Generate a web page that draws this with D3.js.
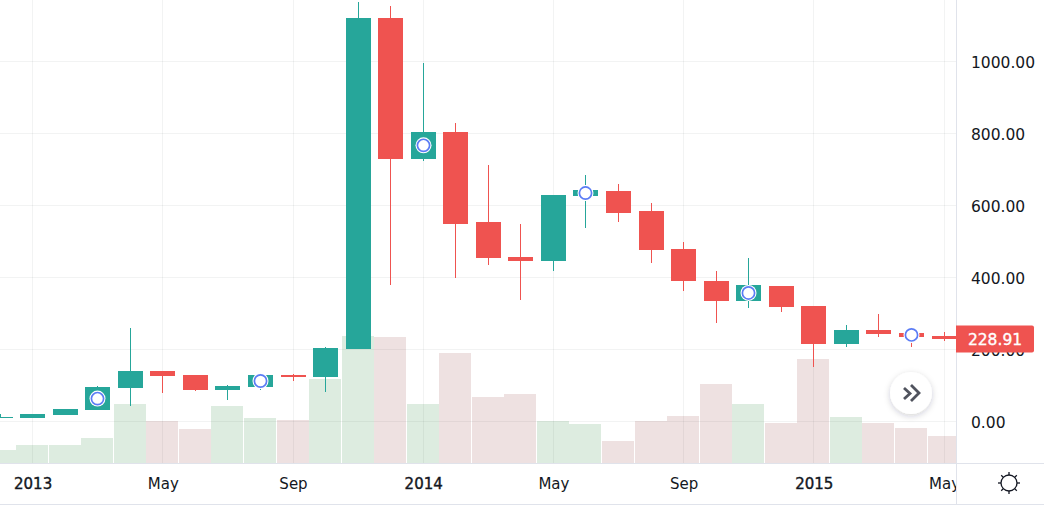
<!DOCTYPE html>
<html>
<head>
<meta charset="utf-8">
<script src="https://d3js.org/d3.v7.min.js"></script>
<style>
html, body { margin: 0; padding: 0; background: #fff; }
svg { display: block; }
svg text { font-family: "DejaVu Sans", sans-serif; }
</style>
</head>
<body>
<svg></svg>
<script>
// monthly candles, Dec 2012 .. May 2015
const months = ["Dec", "2013", "Feb", "Mar", "Apr", "May", "Jun", "Jul", "Aug", "Sep", "Oct", "Nov",
    "Dec", "2014", "Feb", "Mar", "Apr", "May", "Jun", "Jul", "Aug", "Sep", "Oct", "Nov",
    "Dec", "2015", "Feb", "Mar", "Apr", "May"];
const opens = [11, 10, 18, 31, 93, 140, 129, 87, 95, 129, 123, 201, 1120, 729, 804, 554, 456, 445, 626, 640, 584, 479, 390, 334, 376, 320, 215, 254, 246, 237];
const closes = [13, 20, 34, 95, 140, 126, 87, 98, 129, 123, 204, 1120, 729, 804, 548, 454, 445, 629, 642, 579, 476, 390, 334, 379, 318, 215, 254, 243, 234, 228.91];
const highs = [20, 20, 34, 98, 259, 140, 129, 101, 134, 131, 206, 1165, 1154, 995, 829, 712, 548, 629, 684, 659, 606, 498, 418, 454, 376, 320, 268, 298, 262, 248];
const lows = [10, 10, 18, 31, 42, 79, 84, 59, 87, 112, 81, 201, 379, 723, 398, 434, 337, 418, 537, 554, 440, 362, 273, 315, 304, 151, 206, 234, 206, 223];
const volumes = [13, 18, 18, 25, 59, 42, 34, 57, 45, 43, 84, 127, 126, 59, 110, 66, 69, 42, 39, 22, 42, 47, 79, 59, 40, 104, 46, 40, 35, 27];
const markerIdx = [3, 8, 13, 18, 23, 28];
const priceTicks = [0, 200, 400, 600, 800, 1000];
const timeTicks = [1, 5, 9, 13, 17, 21, 25, 29];
const boldTicks = ["2013", "2014", "2015"];
const lastPrice = 228.91;

const width = 1044;
const height = 510;
const paneW = 956;
const paneH = 463;
const axisBottomY = 504;

const green = "#26a69a";
const red = "#ef5350";
const lineCol = "#e0e3eb";
const textCol = "#131722";

let svg = d3.select("svg").attr("width", width).attr("height", height);

let scaleX = d3.scaleLinear().domain([0, months.length - 1]).range([0.05, 944]);
let scaleY = d3.scaleLinear().domain([0, 1000]).range([421.3, 61.3]);
let scaleV = d3.scaleLinear().domain([0, 127]).range([paneH, 336]);

let px = i => Math.floor(scaleX(i));
let py = v => Math.round(scaleY(v));
let isUp = i => closes[i] >= opens[i];

svg.append("defs").append("clipPath").attr("id", "pane")
    .append("rect").attr("width", paneW).attr("height", axisBottomY);

let shadow = svg.select("defs").append("filter").attr("id", "btnShadow")
    .attr("x", "-50%").attr("y", "-50%").attr("width", "200%").attr("height", "200%");
shadow.append("feDropShadow").attr("dx", 0).attr("dy", 2).attr("stdDeviation", 3)
    .attr("flood-color", "#2a2e39").attr("flood-opacity", 0.2);

let pane = svg.append("g").attr("clip-path", "url(#pane)");
let idx = d3.range(months.length);

// volume first, grid goes over it
pane.selectAll(".vol").data(idx).enter().append("rect").attr("class", "vol")
    .attr("x", i => px(i) - 16)
    .attr("y", i => Math.round(scaleV(volumes[i])))
    .attr("width", 32)
    .attr("height", i => paneH - Math.round(scaleV(volumes[i])))
    .attr("fill", i => isUp(i) ? "rgba(83,160,100,0.2)" : "rgba(170,105,105,0.2)");

pane.selectAll(".gridY").data(priceTicks).enter().append("rect").attr("class", "gridY")
    .attr("x", 0).attr("width", paneW).attr("height", 1)
    .attr("y", d => py(d)).attr("fill", "rgba(42,46,57,0.06)");
pane.selectAll(".gridX").data(timeTicks).enter().append("rect").attr("class", "gridX")
    .attr("x", i => px(i)).attr("width", 1).attr("y", 0).attr("height", paneH)
    .attr("fill", "rgba(42,46,57,0.06)");

// candles
pane.selectAll(".wick").data(idx).enter().append("rect").attr("class", "wick")
    .attr("x", i => px(i)).attr("width", 1)
    .attr("y", i => py(highs[i]))
    .attr("height", i => py(lows[i]) - py(highs[i]))
    .attr("fill", i => isUp(i) ? green : red);
pane.selectAll(".body").data(idx).enter().append("rect").attr("class", "body")
    .attr("x", i => px(i) - 12).attr("width", 25)
    .attr("y", i => py(Math.max(opens[i], closes[i])))
    .attr("height", i => Math.max(1, py(Math.min(opens[i], closes[i])) - py(Math.max(opens[i], closes[i]))))
    .attr("fill", i => isUp(i) ? green : red);

// event markers sit on the middle of the candle body
pane.selectAll(".marker").data(markerIdx).enter().append("circle").attr("class", "marker")
    .attr("cx", i => px(i) + 0.5)
    .attr("cy", i => scaleY((opens[i] + closes[i]) / 2))
    .attr("r", 8).attr("fill", "#fff");
pane.selectAll(".markerRing").data(markerIdx).enter().append("circle").attr("class", "markerRing")
    .attr("cx", i => px(i) + 0.5)
    .attr("cy", i => scaleY((opens[i] + closes[i]) / 2))
    .attr("r", 6.1).attr("fill", "#fff").attr("stroke", "#5b7cf5").attr("stroke-width", 1.7);

// frame lines
svg.append("rect").attr("x", 0).attr("y", paneH).attr("width", width).attr("height", 1).attr("fill", lineCol);
svg.append("rect").attr("x", 0).attr("y", axisBottomY).attr("width", width).attr("height", 1).attr("fill", lineCol);
svg.append("rect").attr("x", paneW).attr("y", 0).attr("width", 1).attr("height", axisBottomY).attr("fill", lineCol);

// price axis
let axisY = d3.axisRight(scaleY).tickValues(priceTicks).tickSize(0).tickPadding(15).tickFormat(d3.format(".2f"));
let gY = svg.append("g").attr("transform", `translate(${paneW}, 0)`).call(axisY);
gY.select(".domain").remove();
gY.selectAll("text").attr("fill", textCol).attr("dy", "0.42em").style("font-size", "15.5px");

// time axis
let axisX = d3.axisBottom(scaleX).tickValues(timeTicks).tickSize(0).tickPadding(15).tickFormat(i => months[i]);
let gX = svg.append("g").attr("clip-path", "url(#pane)").append("g").attr("transform", `translate(0, ${paneH})`).call(axisX);
gX.select(".domain").remove();
gX.selectAll("text").attr("fill", textCol).style("font-size", "15px")
    .attr("stroke", i => boldTicks.includes(months[i]) ? textCol : "none")
    .attr("stroke-width", 0.4);

// last price tag
let tag = svg.append("g").attr("transform", `translate(${paneW}, ${scaleY(lastPrice)})`);
tag.append("path").attr("d", "M0,-13.5H76a2,2 0 0 1 2,2V11.5a2,2 0 0 1 -2,2H0Z").attr("fill", red);
tag.append("text").attr("x", 39).attr("dy", "0.38em").attr("text-anchor", "middle")
    .attr("fill", "#fff").attr("stroke", "#fff").attr("stroke-width", 0.35)
    .style("font-size", "15.5px")
    .text(d3.format(".2f")(lastPrice));

// scroll-to-realtime button
let btn = svg.append("g").attr("transform", "translate(911, 393)");
btn.append("circle").attr("r", 21).attr("fill", "#fff").attr("filter", "url(#btnShadow)");
btn.append("path").attr("d", "M-7,-5L-1,0.5L-7,6M0,-8L8,0L0,8").attr("fill", "none")
    .attr("stroke", "#50535e").attr("stroke-width", 2.8);

// settings icon
let gear = svg.append("g").attr("transform", "translate(1009, 483)").attr("stroke", textCol).attr("fill", "none").attr("stroke-width", 1.3);
gear.append("circle").attr("r", 8);
d3.range(8).forEach(k => {
    gear.append("line").attr("y1", -8).attr("y2", -11).attr("transform", `rotate(${k * 45})`);
});
</script>
</body>
</html>
